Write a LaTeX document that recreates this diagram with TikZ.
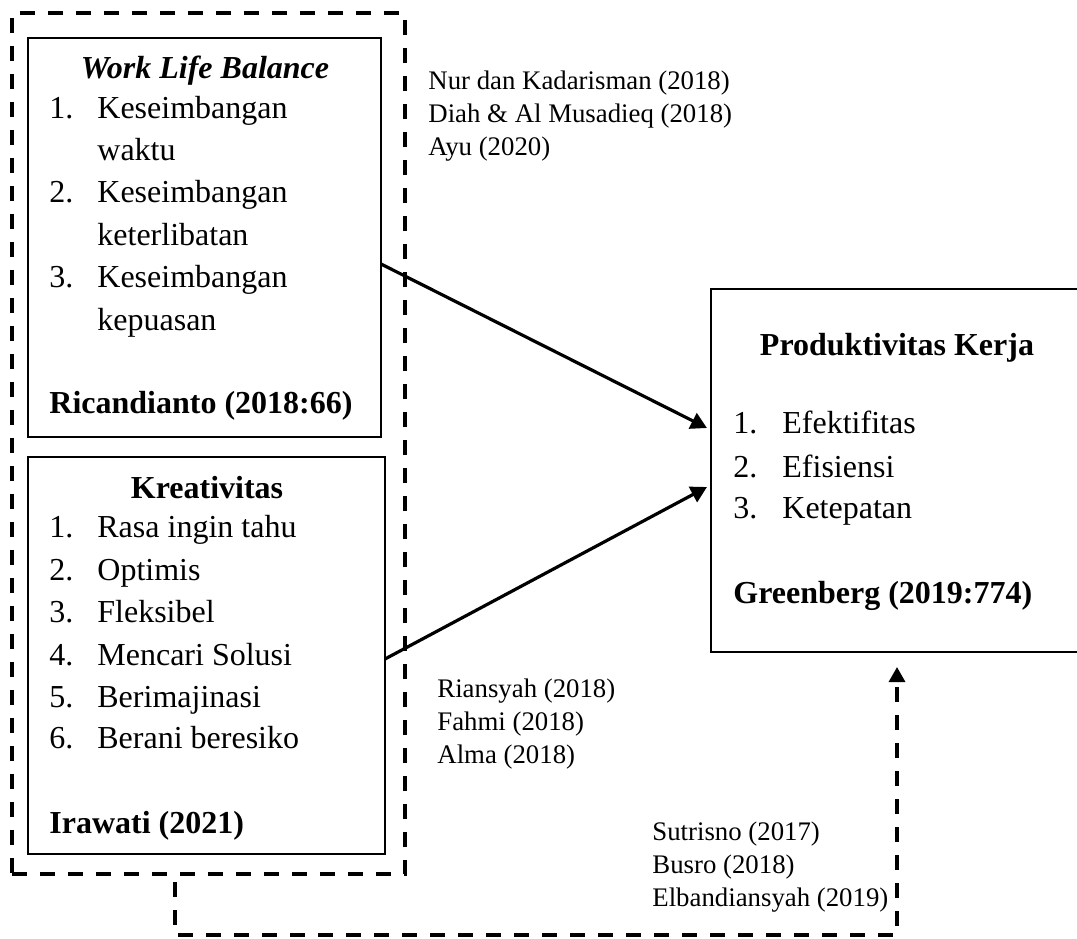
\documentclass[tikz,border=0pt]{standalone}
\usepackage{fontspec}
\setmainfont{Liberation Serif}
\usetikzlibrary{arrows.meta}
\newcommand\bigtxt{\fontsize{16}{21}\selectfont}
\newcommand\smalltxt{\fontsize{13.4}{16.5}\selectfont}

\begin{document}
\begin{tikzpicture}[x=0.5pt, y=-0.5pt, font=\bigtxt,
  box/.style={draw, line width=1pt, inner sep=0pt, outer sep=0pt, anchor=north west},
  txt/.style={inner sep=0pt, anchor=base west},
  hd/.style={inner sep=0pt, anchor=base, font=\bigtxt\bfseries},
  refs/.style={inner sep=0pt, anchor=base west, font=\smalltxt},
  dsh/.style={line width=1.6pt, dash pattern=on 7.5pt off 6.5pt},
  arr/.style={line width=1.6pt, -{Triangle[length=8pt, width=8.5pt]}}]
  \clip (0,0) rectangle (1077,938);
  % dashed frame and the three boxes
  \node[draw, dsh, inner sep=0pt, outer sep=0pt, anchor=north west, minimum width=196.5pt, minimum height=430.5pt] (frame) at (12,13) {};
  \node[box, minimum width=176.5pt, minimum height=199.5pt] (box1) at (28,38) {};
  \node[box, minimum width=178.5pt, minimum height=198.5pt] (box2) at (28,457) {};
  \node[box, minimum width=189.5pt, minimum height=181.5pt] (box3) at (711,289) {};

  % work life balance
  \node[hd, font=\bigtxt\bfseries\itshape] (wlbhead) at (205,78) {Work Life Balance};
  \node[txt] (wn1) at (49,118) {1.}; \node[txt] (wt1) at (97,118) {Keseimbangan};
  \node[txt] (wt1b) at (97,160) {waktu};
  \node[txt] (wn2) at (49,202) {2.}; \node[txt] (wt2) at (97,202) {Keseimbangan};
  \node[txt] (wt2b) at (97,245) {keterlibatan};
  \node[txt] (wn3) at (49,287) {3.}; \node[txt] (wt3) at (97,287) {Keseimbangan};
  \node[txt] (wt3b) at (97,330) {kepuasan};
  \node[txt, font=\bigtxt\bfseries] (wsrc) at (49,413) {Ricandianto (2018:66)};

  % kreativitas
  \node[hd] (krhead) at (207,498) {Kreativitas};
  \node[txt] (kn1) at (49,537) {1.}; \node[txt] (kt1) at (97,537) {Rasa ingin tahu};
  \node[txt] (kn2) at (49,580) {2.}; \node[txt] (kt2) at (97,580) {Optimis};
  \node[txt] (kn3) at (49,622) {3.}; \node[txt] (kt3) at (97,622) {Fleksibel};
  \node[txt] (kn4) at (49,665) {4.}; \node[txt] (kt4) at (97,665) {Mencari Solusi};
  \node[txt] (kn5) at (49,707) {5.}; \node[txt] (kt5) at (97,707) {Berimajinasi};
  \node[txt] (kn6) at (49,748) {6.}; \node[txt] (kt6) at (97,748) {Berani beresiko};
  \node[txt, font=\bigtxt\bfseries] (ksrc) at (49,833) {Irawati (2021)};

  % produktivitas kerja
  \node[hd] (prhead) at (897,355) {Produktivitas Kerja};
  \node[txt] (pn1) at (733,433) {1.}; \node[txt] (pt1) at (782,433) {Efektifitas};
  \node[txt] (pn2) at (733,477) {2.}; \node[txt] (pt2) at (782,477) {Efisiensi};
  \node[txt] (pn3) at (733,518) {3.}; \node[txt] (pt3) at (782,518) {Ketepatan};
  \node[txt, font=\bigtxt\bfseries] (psrc) at (733,603) {Greenberg (2019:774)};

  % references
  \node[refs] (ra1) at (428,89) {Nur dan Kadarisman (2018)};
  \node[refs] (ra2) at (428,122) {Diah \& Al Musadieq (2018)};
  \node[refs] (ra3) at (428,155) {Ayu (2020)};
  \node[refs] (rb1) at (437,697) {Riansyah (2018)};
  \node[refs] (rb2) at (437,730) {Fahmi (2018)};
  \node[refs] (rb3) at (437,763) {Alma (2018)};
  \node[refs] (rc1) at (652,840) {Sutrisno (2017)};
  \node[refs] (rc2) at (652,873) {Busro (2018)};
  \node[refs] (rc3) at (652,906) {Elbandiansyah (2019)};

  % connectors
  \draw[arr] ([yshift=-13.25pt]box1.east) -- ([xshift=-2pt, yshift=21.25pt]box3.west);
  \draw[arr] ([yshift=-1.75pt]box2.east) -- ([xshift=-2pt, yshift=-8.25pt]box3.west);
  \draw[dsh, -{Triangle[length=7.5pt, width=8pt]}] ([xshift=-16.75pt, yshift=-4pt]frame.south) -- ++(0,53)
    -| ([xshift=93pt, yshift=-7.5pt]box3.south west);
\end{tikzpicture}
\end{document}
